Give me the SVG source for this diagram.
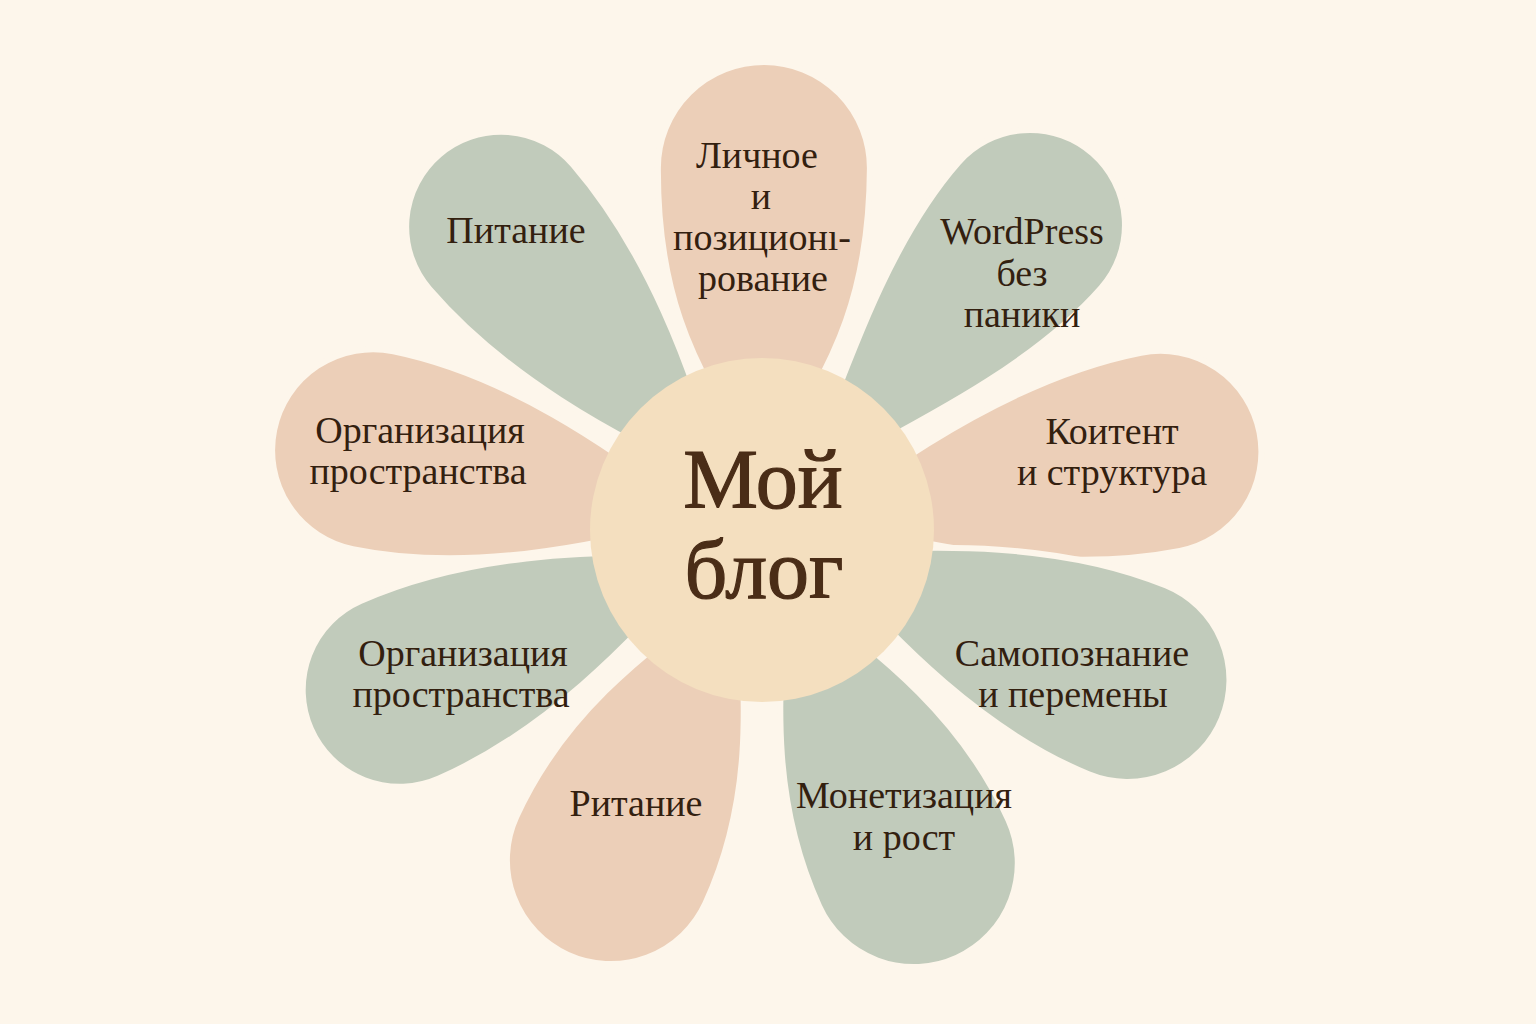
<svg xmlns="http://www.w3.org/2000/svg" width="1536" height="1024" viewBox="0 0 1536 1024">
<style>
.bg{fill:#fdf6eb}
.peach{fill:#eccfb8;stroke:#fdf6eb;stroke-width:6}
.green{fill:#c1cbbb;stroke:#fdf6eb;stroke-width:6}
.core{fill:#f4dfbf}
.lbl{font-family:"Liberation Serif","DejaVu Serif",serif;font-size:38px;fill:#33200f;text-anchor:middle}
.title{font-family:"Liberation Serif","DejaVu Serif",serif;font-size:84px;fill:#4a2d17;stroke:#4a2d17;stroke-width:1.2;text-anchor:middle}
</style>
<rect class="bg" x="0" y="0" width="1536" height="1024"/>
<g id="petals">
<g id="p1">
<path class="peach" transform="translate(762,530) rotate(0.3)" d="M0,-60 C-80,-170 -106,-250 -106,-362 A106,106 0 0 1 106,-362 C106,-250 80,-170 0,-60Z"/>
<text class="lbl" x="757" y="168">Личное</text>
<text class="lbl" x="761" y="209">и</text>
<text class="lbl" x="762" y="250">позиционı-</text>
<text class="lbl" x="763" y="291">рование</text>
</g>
<g id="p2">
<path class="green" transform="translate(762,530) rotate(41.3)" d="M0,-60 C-40,-170 -95,-294 -95,-406 A95,95 0 0 1 95,-406 C95,-294 40,-170 0,-60Z"/>
<text class="lbl" x="1022" y="244">WordPress</text>
<text class="lbl" x="1022" y="286">без</text>
<text class="lbl" x="1022" y="327">паники</text>
</g>
<g id="p3">
<path class="peach" transform="translate(762,530) rotate(78.9)" d="M0,-60 C-55,-170 -101,-294 -101,-406 A101,101 0 0 1 101,-406 C101,-294 55,-170 0,-60Z"/>
<text class="lbl" x="1112" y="444">Коитент</text>
<text class="lbl" x="1112" y="485">и структура</text>
</g>
<g id="p4">
<path class="green" transform="translate(762,530) rotate(112.3)" d="M0,-60 C-55,-170 -102,-283 -102,-395 A102,102 0 0 1 102,-395 C102,-283 55,-170 0,-60Z"/>
<text class="lbl" x="1072" y="666">Самопознание</text>
<text class="lbl" x="1073" y="707">и перемены</text>
</g>
<g id="p5">
<path class="green" transform="translate(762,530) rotate(155.5)" d="M0,-60 C-62,-170 -104,-256 -104,-366 A104,104 0 0 1 104,-366 C104,-256 62,-170 0,-60Z"/>
<text class="lbl" x="904" y="808">Монетизация</text>
<text class="lbl" x="904" y="850">и рост</text>
</g>
<g id="p6">
<path class="peach" transform="translate(762,530) rotate(204.6)" d="M0,-60 C-62,-170 -104,-253 -104,-363 A104,104 0 0 1 104,-363 C104,-253 62,-170 0,-60Z"/>
<text class="lbl" x="636" y="816">Ритание</text>
</g>
<g id="p7">
<path class="green" transform="translate(762,530) rotate(246.2)" d="M0,-60 C-55,-170 -97,-284 -97,-396 A97,97 0 0 1 97,-396 C97,-284 55,-170 0,-60Z"/>
<text class="lbl" x="463" y="666">Организация</text>
<text class="lbl" x="461" y="707">пространства</text>
</g>
<g id="p8">
<path class="peach" transform="translate(762,530) rotate(281.6)" d="M0,-60 C-55,-170 -101,-285 -101,-397 A101,101 0 0 1 101,-397 C101,-285 55,-170 0,-60Z"/>
<text class="lbl" x="420" y="443">Организация</text>
<text class="lbl" x="418" y="484">пространства</text>
</g>
<g id="p9">
<path class="green" transform="translate(762,530) rotate(319.3)" d="M0,-60 C-55,-170 -95,-290 -95,-400 A95,95 0 0 1 95,-400 C95,-290 55,-170 0,-60Z"/>
<text class="lbl" x="516" y="243">Питание</text>
</g>
</g>
<g id="center">
<circle class="core" cx="762" cy="530" r="172"/>
<text class="title" x="763" y="508">Мой</text>
<text class="title" x="764" y="598">блог</text>
</g>
</svg>
